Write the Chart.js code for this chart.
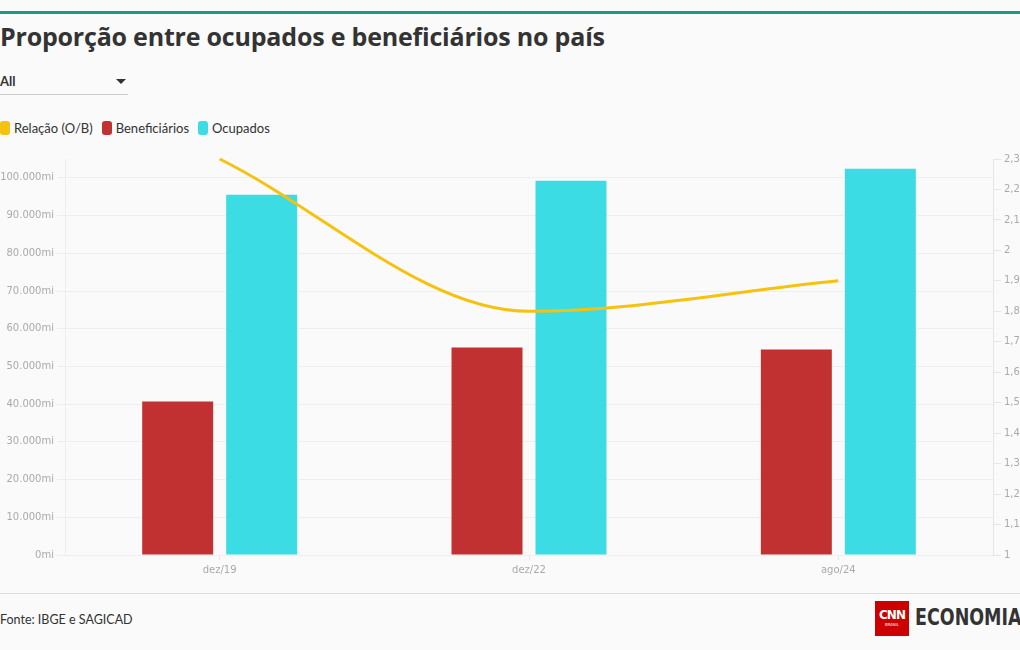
<!DOCTYPE html>
<html>
<head>
<meta charset="utf-8">
<script src="https://cdn.jsdelivr.net/npm/chart.js@4"></script>
<style>
  body { margin: 0; background: #fafafa; font-family: Lato, "Open Sans", sans-serif; color: #333; }
  #wrap { position: relative; width: 1020px; height: 650px; overflow: hidden; }
  #topbar { position: absolute; left: 0; top: 11px; width: 1020px; height: 3px; background: #1b9c7c; }
  #title { position: absolute; left: 0; top: 19px; font-family: "Open Sans", sans-serif; font-size: 25px; font-weight: bold; color: #333; white-space: nowrap; letter-spacing: -0.2px; }
  #select { position: absolute; left: 0; top: 73px; width: 128px; height: 21px; border-bottom: 1px solid #ccc; font-size: 13px; font-weight: bold; }
  #select .caret { position: absolute; left: 116px; top: 6px; width: 0; height: 0; border-left: 5px solid transparent; border-right: 5px solid transparent; border-top: 5px solid #333; }
  #legend { position: absolute; left: 0; top: 120px; font-size: 13px; white-space: nowrap; }
  #legend span.item { margin-right: 9px; }
  #legend span.box { display: inline-block; width: 10px; height: 14px; border-radius: 3px; vertical-align: -2px; margin-right: 4px; }
  #chartbox { position: absolute; left: 0; top: 150px; width: 1020px; height: 430px; }
  #footline { position: absolute; left: 0; top: 593px; width: 1020px; height: 1px; background: #ddd; }
  #source { position: absolute; left: 0; top: 612px; font-size: 12.5px; color: #333; }
  #logo { position: absolute; left: 875px; top: 601px; width: 34px; height: 35px; background: #cc0000; color: #fff; text-align: center; font-family: "DejaVu Sans", sans-serif; }
  #logo .cnn { font-size: 12px; font-weight: bold; margin-top: 7px; letter-spacing: -1px; }
  #logo .br { font-size: 4px; }
  #eco { position: absolute; left: 915px; top: 604px; font-size: 23px; font-weight: bold; color: #333; font-family: "DejaVu Sans", sans-serif; transform: scaleX(0.76); transform-origin: left top; white-space: nowrap; }
</style>
</head>
<body>
<div id="wrap">
  <div id="topbar"></div>
  <div id="title">Proporção entre ocupados e beneficiários no país</div>
  <div id="select">All<div class="caret"></div></div>
  <div id="legend"></div>
  <div id="chartbox"><canvas id="chart" width="1020" height="430"></canvas></div>
  <div id="footline"></div>
  <div id="source">Fonte: IBGE e SAGICAD</div>
  <div id="logo"><div class="cnn">CNN</div><div class="br">BRASIL</div></div>
  <div id="eco">ECONOMIA</div>
</div>
<script>
var categories = ["dez/19", "dez/22", "ago/24"];
var beneficiarios = [40700, 55050, 54500];
var ocupados = [95500, 99200, 102400];
var relacao = [2.3, 1.8, 1.9];
var leftMax = 105000;
var leftStep = 10000;

var colors = { relacao: "#f6c20f", beneficiarios: "#c23131", ocupados: "#3bdce3" };

var legendItems = [
    { label: "Relação (O/B)", color: colors.relacao },
    { label: "Beneficiários", color: colors.beneficiarios },
    { label: "Ocupados", color: colors.ocupados }
];
var html = "";
for (var i = 0; i < legendItems.length; i++) {
    html += "<span class='item'><span class='box' style='background:" + legendItems[i].color + "'></span>" + legendItems[i].label + "</span>";
}
document.getElementById("legend").innerHTML = html;

var tickFont = { family: "DejaVu Sans", size: 10 };
var tickColor = "#aaa";

var ctx = document.getElementById("chart").getContext("2d");
new Chart(ctx, {
    type: "bar",
    data: {
        labels: categories,
        datasets: [
            {
                type: "line",
                label: "Relação (O/B)",
                data: relacao,
                yAxisID: "y1",
                borderColor: colors.relacao,
                borderWidth: 3,
                pointRadius: 0,
                cubicInterpolationMode: "monotone",
                fill: false,
                clip: false,
                order: 0
            },
            {
                label: "Beneficiários",
                data: beneficiarios,
                yAxisID: "y",
                backgroundColor: colors.beneficiarios,
                order: 1
            },
            {
                label: "Ocupados",
                data: ocupados,
                yAxisID: "y",
                backgroundColor: colors.ocupados,
                order: 1
            }
        ]
    },
    options: {
        responsive: false,
        animation: false,
        layout: { padding: { top: 8, left: 0, right: 0, bottom: 0 } },
        datasets: { bar: { categoryPercentage: 0.543, barPercentage: 0.845 } },
        plugins: { legend: { display: false }, tooltip: { enabled: false } },
        scales: {
            x: {
                grid: { drawOnChartArea: false, offset: false, color: "#e6e6e6", tickLength: 5 },
                border: { color: "#eee" },
                ticks: { color: tickColor, font: tickFont, padding: 4 }
            },
            y: {
                position: "left",
                min: 0,
                max: leftMax,
                afterFit: function (scale) { scale.width = 65; },
                afterBuildTicks: function (scale) {
                    // keep the round steps only, not the odd max
                    var t = [];
                    for (var v = 0; v <= leftMax; v += leftStep) t.push({ value: v });
                    scale.ticks = t;
                },
                grid: { color: "#eeeeee" },
                border: { color: "#eee" },
                ticks: {
                    color: tickColor,
                    font: tickFont,
                    callback: function (v) { return v.toLocaleString("pt-BR") + "mi"; }
                }
            },
            y1: {
                position: "right",
                min: 1,
                max: 2.3,
                afterFit: function (scale) { scale.width = 27; },
                grid: { drawOnChartArea: false, color: "#e6e6e6" },
                border: { color: "#e6e6e6" },
                ticks: {
                    stepSize: 0.1,
                    maxTicksLimit: 30,
                    color: tickColor,
                    font: tickFont,
                    callback: function (v) { return (Math.round(v * 10) / 10).toLocaleString("pt-BR"); }
                }
            }
        }
    }
});
</script>
</body>
</html>
